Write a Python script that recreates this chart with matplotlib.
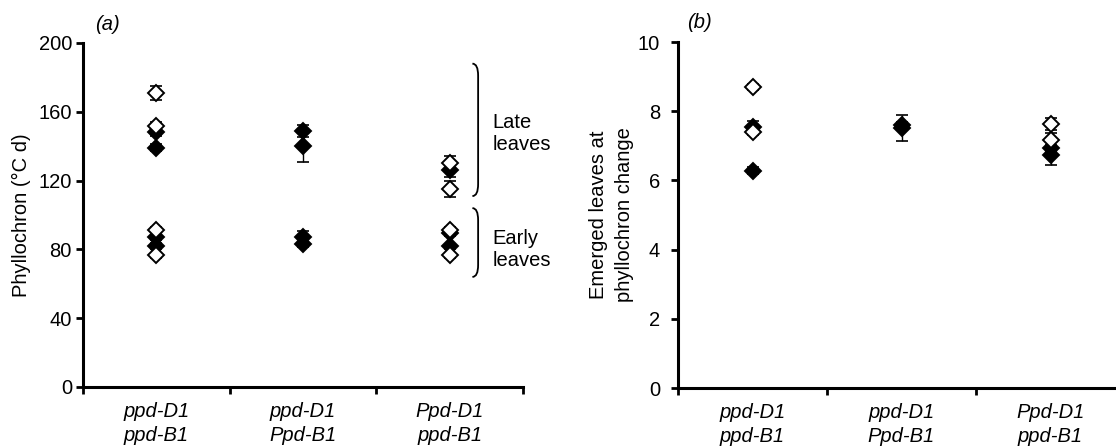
import numpy as np
import matplotlib
matplotlib.use("Agg")
import matplotlib.pyplot as plt
from matplotlib.path import Path
from matplotlib.patches import PathPatch
import matplotlib.transforms as mtransforms

plt.rcParams['font.family'] = ['Liberation Sans', 'DejaVu Sans']

nan = np.nan
categories = ["ppd-D1\nppd-B1", "ppd-D1\nPpd-B1", "Ppd-D1\nppd-B1"]

# Panel (a): phyllochron (degC d)
late_open1 = [171, nan, 130];   late_open1_err = [4, nan, 4.5]
late_open2 = [152, nan, 115];   late_open2_err = [2, nan, 4.8]
late_fill1 = [148, 149, 126];   late_fill1_err = [2, 3.5, 3.8]
late_fill2 = [139, 140, nan];   late_fill2_err = [2, 9, nan]
early_open1 = [91.5, nan, 91.5]; early_open1_err = [1.5, nan, 1.5]
early_open2 = [76.5, nan, 76.5]; early_open2_err = [1.5, nan, 1.5]
early_fill1 = [87, 87.5, 89.5];  early_fill1_err = [1.5, 3, 1.5]
early_fill2 = [82, 83, 81.8];    early_fill2_err = [1.5, 1.5, 1.5]

# Panel (b): emerged leaves at phyllochron change
b_open1 = [8.7, nan, 7.62];  b_open1_err = [0.1, nan, 0.17]
b_open2 = [7.4, nan, 7.17];  b_open2_err = [0.1, nan, 0.2]
b_fill1 = [7.55, 7.6, 6.93]; b_fill1_err = [0.16, 0.1, 0.1]
b_fill2 = [6.28, 7.52, 6.72]; b_fill2_err = [0.1, 0.38, 0.27]

FS = 14.5
fig = plt.figure(figsize=(11.16, 4.47), dpi=100)
axa = fig.add_axes([83/1116, 60/447, 440/1116, 344/447])
axb = fig.add_axes([678/1116, 59/447, 447/1116, 346/447])

x = np.arange(len(categories))

def draw_series(ax, vals, errs, filled):
    fc = 'black' if filled else 'white'
    z = 3 if filled else 5
    ax.errorbar(x, vals, yerr=errs, fmt='none', ecolor='black', elinewidth=1.0,
                capsize=4.5, capthick=1.2, zorder=z)
    ax.plot(x, vals, linestyle='none', marker='D', markersize=8.5,
            markerfacecolor=fc, markeredgecolor='black', markeredgewidth=1.4,
            zorder=z + 1)

def style(ax, ylim, yticks, ypad):
    ax.set_xlim(-0.5, len(categories) - 0.5)
    ax.set_ylim(*ylim)
    ax.set_yticks(yticks)
    ax.set_xticks(x)
    ax.set_xticklabels(categories, fontsize=FS, style='italic', linespacing=1.3)
    ax.set_xticks(np.arange(len(categories) + 1) - 0.5, minor=True)
    ax.tick_params(axis='x', which='major', length=0, pad=11)
    ax.tick_params(axis='x', which='minor', length=5, width=2, direction='out')
    ax.tick_params(axis='y', length=5, width=2, direction='out', labelsize=FS, pad=ypad)
    for s in ['top', 'right']:
        ax.spines[s].set_visible(False)
    for s in ['left', 'bottom']:
        ax.spines[s].set_linewidth(2.2)
    ax.spines['bottom'].set_clip_on(False)

# Panel a
for vals, errs in [(late_fill1, late_fill1_err), (late_fill2, late_fill2_err),
                   (early_fill1, early_fill1_err), (early_fill2, early_fill2_err)]:
    draw_series(axa, vals, errs, True)
for vals, errs in [(late_open1, late_open1_err), (late_open2, late_open2_err),
                   (early_open1, early_open1_err), (early_open2, early_open2_err)]:
    draw_series(axa, vals, errs, False)
style(axa, (0, 200), [0, 40, 80, 120, 160, 200], 3)
axa.set_ylabel("Phyllochron (°C d)", fontsize=FS, labelpad=5)
axa.text(0.027, 1.055, "(a)", transform=axa.transAxes, fontsize=FS, style='italic',
         ha='left', va='center')

# Braces
trans = mtransforms.blended_transform_factory(axa.transAxes, axa.transData)
def brace(ax, ytop, ybot, xa=0.898, w=0.013, h=7):
    verts = [(xa - w, ytop), (xa, ytop), (xa, ytop - h),
             (xa, ybot + h), (xa, ybot), (xa - w, ybot)]
    codes = [Path.MOVETO, Path.CURVE3, Path.CURVE3, Path.LINETO, Path.CURVE3, Path.CURVE3]
    ax.add_patch(PathPatch(Path(verts, codes), transform=trans, fill=False,
                           lw=1.3, edgecolor='black', clip_on=False))
brace(axa, 188, 111)
brace(axa, 104, 64)
axa.text(0.93, 147.5, "Late\nleaves", transform=trans, fontsize=FS, ha='left',
         va='center', linespacing=1.2, clip_on=False)
axa.text(0.93, 80, "Early\nleaves", transform=trans, fontsize=FS, ha='left',
         va='center', linespacing=1.2, clip_on=False)

# Panel b
for vals, errs in [(b_fill1, b_fill1_err), (b_fill2, b_fill2_err)]:
    draw_series(axb, vals, errs, True)
for vals, errs in [(b_open1, b_open1_err), (b_open2, b_open2_err)]:
    draw_series(axb, vals, errs, False)
style(axb, (0, 10), [0, 2, 4, 6, 8, 10], 8)
axb.set_ylabel("Emerged leaves at\nphyllochron change", fontsize=FS, labelpad=3,
               linespacing=1.45)
axb.text(0.02, 1.055, "(b)", transform=axb.transAxes, fontsize=FS, style='italic',
         ha='left', va='center')

fig.savefig("out.png", dpi=100)
